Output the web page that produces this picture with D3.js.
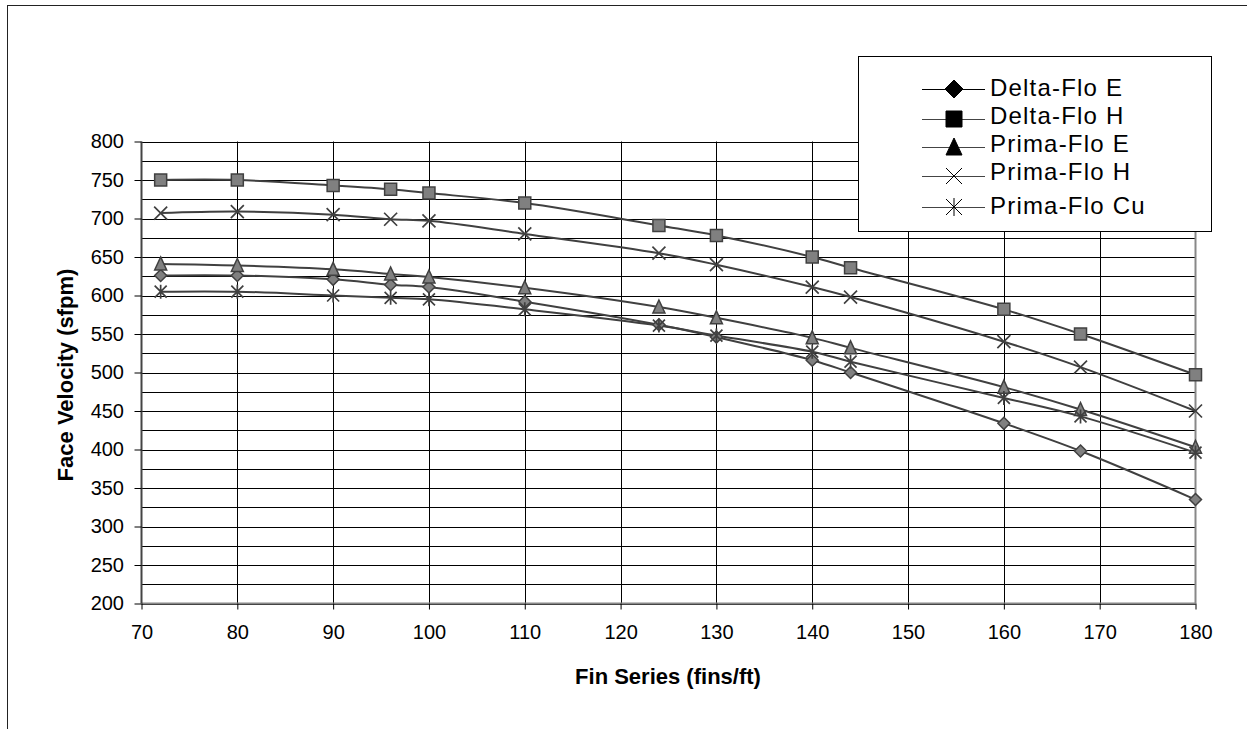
<!DOCTYPE html>
<html><head><meta charset="utf-8">
<script src="https://cdn.jsdelivr.net/npm/d3@7"></script>
<style>body{margin:0;background:#fff;}svg{display:block;font-family:"Liberation Sans",Arial,sans-serif;}</style>
</head><body>
<svg id="c" width="1247" height="729"></svg>
<script>
const finSeries = [72, 80, 90, 96, 100, 110, 124, 130, 140, 144, 160, 168, 180];
const deltaFloE  = [626, 626, 621, 614, 611, 592, 562, 546, 516, 500, 434, 398, 335];
const deltaFloH  = [750, 750, 743, 738, 733, 720, 691, 678, 650, 636, 582, 550, 497];
const primaFloE  = [641, 639, 634, 628, 624, 610, 585, 571, 545, 532, 481, 452, 403];
const primaFloH  = [707, 709, 705, 699, 697, 680, 655, 640, 611, 598, 540, 507, 450];
const primaFloCu = [605, 605, 600, 597, 595, 582, 561, 548, 527, 514, 467, 443, 396];
const seriesNames = ["Delta-Flo E", "Delta-Flo H", "Prima-Flo E", "Prima-Flo H", "Prima-Flo Cu"];
const seriesValues = [deltaFloE, deltaFloH, primaFloE, primaFloH, primaFloCu];
const markerTypes = ["diamond", "square", "triangle", "x", "asterisk"];
const xTicks = [70, 80, 90, 100, 110, 120, 130, 140, 150, 160, 170, 180];
const yTicks = [200, 250, 300, 350, 400, 450, 500, 550, 600, 650, 700, 750, 800];
const yGrid = d3.range(200, 801, 25);

const svg = d3.select("#c");
const FONT = "Liberation Sans, Arial, sans-serif";
const L = 141.5, R = 1195.5, T = 141.5, B = 603.5;
const x = d3.scaleLinear().domain([70, 180]).range([L, R]);
const y = d3.scaleLinear().domain([200, 800]).range([B, T]);

// outer border
svg.append("rect").attr("x", 7.5).attr("y", 5.5).attr("width", 1300).attr("height", 800)
  .attr("fill", "none").attr("stroke", "#222").attr("stroke-width", 1);

// gridlines
svg.append("g").selectAll("line").data(yGrid).join("line")
  .attr("x1", L).attr("x2", R).attr("y1", d => Math.round(y(d)) + 0.5).attr("y2", d => Math.round(y(d)) + 0.5)
  .attr("stroke", "#000").attr("stroke-width", 1);
svg.append("g").selectAll("line").data(xTicks.slice(1, -1)).join("line")
  .attr("x1", d => Math.round(x(d)) + 0.5).attr("x2", d => Math.round(x(d)) + 0.5).attr("y1", T).attr("y2", B)
  .attr("stroke", "#000").attr("stroke-width", 1);
svg.append("line").attr("x1", R).attr("x2", R).attr("y1", T).attr("y2", B).attr("stroke", "#888").attr("stroke-width", 2);

// axes
const xAxis = d3.axisBottom(x).tickValues(xTicks).tickSize(6).tickPadding(15.5).tickFormat(d3.format("d"));
const gx = svg.append("g").attr("transform", `translate(0,${B})`).call(xAxis);
gx.select(".domain").attr("stroke", "#888").attr("stroke-width", 2).attr("d", `M${L},0H${R}`);
gx.selectAll(".tick line").attr("stroke", "#000");
gx.selectAll("text").attr("font-size", 20).attr("fill", "#000").attr("font-family", FONT);

const yAxis = d3.axisLeft(y).tickValues(yTicks).tickSize(7).tickPadding(10.5).tickFormat(d3.format("d"));
const gy = svg.append("g").attr("transform", `translate(${L},0)`).call(yAxis);
gy.select(".domain").attr("stroke", "#444").attr("stroke-width", 2).attr("d", `M0,${T}V${B}`);
gy.selectAll(".tick line").attr("stroke", "#000");
gy.selectAll("text").attr("font-size", 20).attr("fill", "#000").attr("font-family", FONT);

// axis titles
svg.append("text").attr("x", 668).attr("y", 684).attr("text-anchor", "middle").attr("font-family", FONT)
  .attr("font-weight", "bold").attr("font-size", 22).text("Fin Series (fins/ft)");
svg.append("text").attr("transform", `translate(73,375) rotate(-90)`).attr("text-anchor", "middle").attr("font-family", FONT)
  .attr("font-weight", "bold").attr("font-size", 22).text("Face Velocity (sfpm)");

function markerPath(type, s) {
  const h = s / 2;
  switch (type) {
    case "diamond": return `M0,${-h}L${h},0L0,${h}L${-h},0Z`;
    case "square": return `M${-h},${-h}H${h}V${h}H${-h}Z`;
    case "triangle": return `M0,${-h - 1}L${h},${h}L${-h},${h}Z`;
    case "x": return `M${-h},${-h}L${h},${h}M${h},${-h}L${-h},${h}`;
    case "asterisk": return `M${-h},${-h}L${h},${h}M${h},${-h}L${-h},${h}M0,${-h - 1}V${h + 1}`;
  }
}
const sizes = {diamond: 12, square: 12, triangle: 12, x: 13, asterisk: 12};
const legendSizes = {diamond: 18, square: 16, triangle: 16, x: 16, asterisk: 16};

const line = d3.line().x(d => x(d[0])).y(d => y(d[1])).curve(d3.curveCatmullRom.alpha(0.5));
const plot = svg.append("g");
seriesValues.forEach((vals) => {
  const pts = finSeries.map((f, j) => [f, vals[j]]);
  plot.append("path").attr("d", line(pts)).attr("fill", "none").attr("stroke", "#404040").attr("stroke-width", 2);
});
seriesValues.forEach((vals, i) => {
  const t = markerTypes[i];
  const filled = (t !== "x" && t !== "asterisk");
  plot.append("g").selectAll("path").data(finSeries.map((f, j) => [f, vals[j]])).join("path")
    .attr("transform", d => `translate(${x(d[0])},${y(d[1])})`)
    .attr("d", markerPath(t, sizes[t]))
    .attr("fill", filled ? "#808080" : "none")
    .attr("stroke", "#404040").attr("stroke-width", filled ? 1.5 : 1.7);
});

// legend
const lg = svg.append("g");
lg.append("rect").attr("x", 858.5).attr("y", 56.5).attr("width", 353).attr("height", 175)
  .attr("fill", "#fff").attr("stroke", "#000").attr("stroke-width", 1);
const legendLineY = [89, 119, 147, 176, 207];
const legendTextY = [96, 124, 152, 180, 214];
seriesNames.forEach((name, i) => {
  const yy = legendLineY[i];
  const t = markerTypes[i];
  const filled = (t !== "x" && t !== "asterisk");
  lg.append("line").attr("x1", 922).attr("x2", 985).attr("y1", yy + 0.5).attr("y2", yy + 0.5)
    .attr("stroke", i === 0 ? "#000" : "#444").attr("stroke-width", 1);
  lg.append("path").attr("transform", `translate(954,${yy})`).attr("d", markerPath(t, legendSizes[t]))
    .attr("fill", filled ? "#000" : "none").attr("stroke", "#000").attr("stroke-width", 1);
  lg.append("text").attr("x", 990).attr("y", legendTextY[i]).attr("font-size", 24).attr("letter-spacing", 1.2)
    .attr("font-family", FONT).attr("fill", "#000").text(name);
});
</script>
</body></html>
